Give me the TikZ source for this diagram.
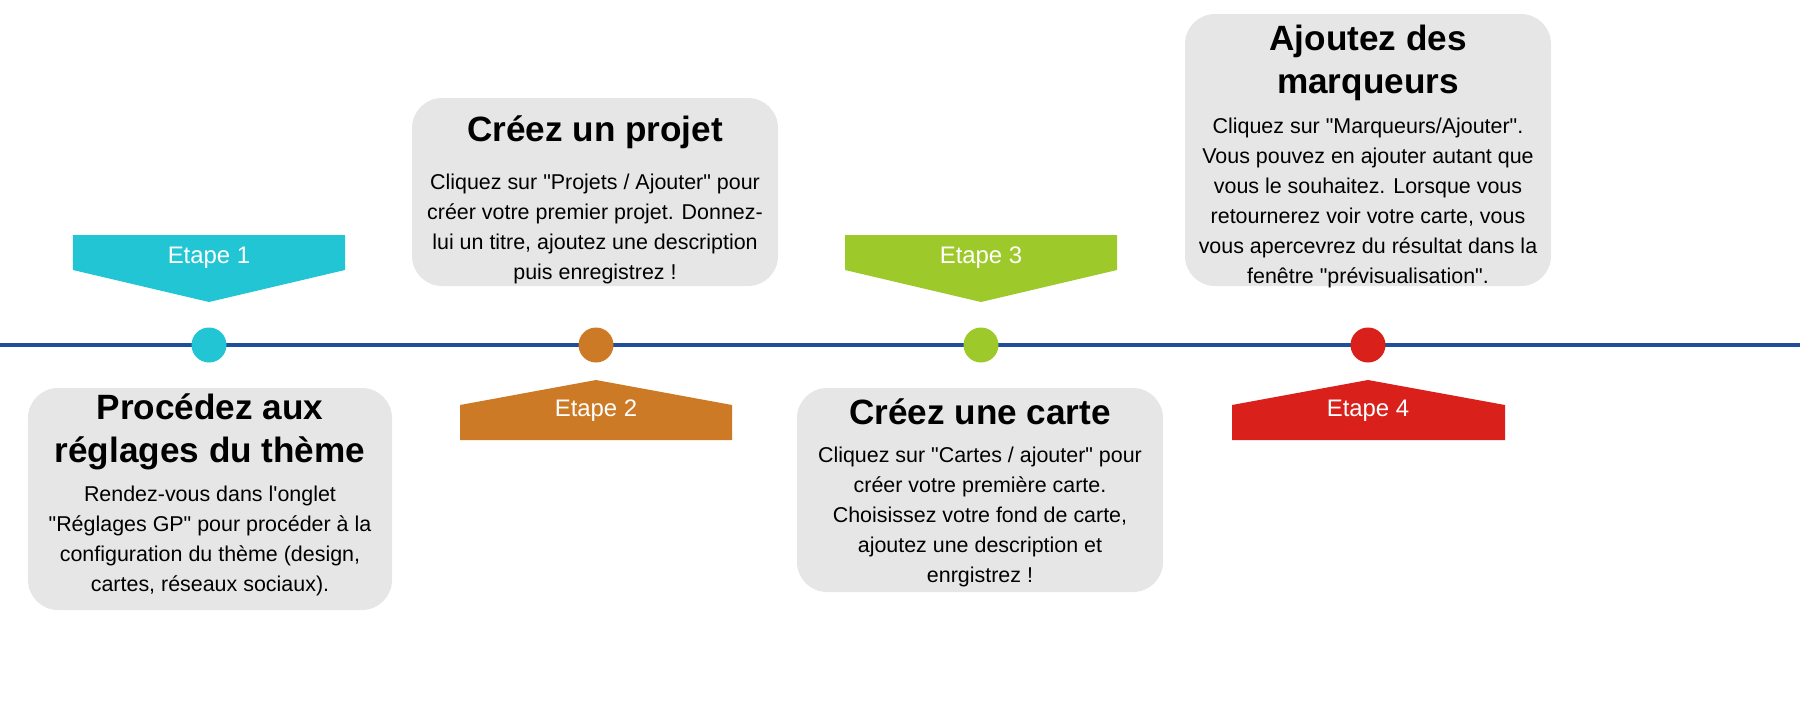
\documentclass[tikz,border=0pt]{standalone}
\usepackage{fontspec}
\setmainfont{Liberation Sans}
\usetikzlibrary{positioning}
\definecolor{lineblue}{HTML}{1F4E9C}
\definecolor{stepcyan}{HTML}{22C5D4}
\definecolor{steporange}{HTML}{CD7A27}
\definecolor{stepgreen}{HTML}{9EC92A}
\definecolor{stepred}{HTML}{D9201A}
\definecolor{boxgray}{HTML}{E6E6E6}
\newcommand{\qq}{\textquotedbl}
\newcommand{\ap}{\textquotesingle}
\begin{document}
\begin{tikzpicture}[
    title/.style={font=\fontsize{10pt}{12.2pt}\selectfont\bfseries, align=center, inner sep=0pt},
    body/.style={font=\fontsize{6.1pt}{8.5pt}\selectfont, align=center, inner sep=0pt},
    dot/.style={circle, minimum size=0.35cm, inner sep=0pt},
    steplabel/.style={text=white, font=\fontsize{6.8pt}{7pt}\selectfont}
]
\useasboundingbox (0,0) rectangle (18,7.06);

% Timeline
\coordinate (tl) at (0,3.61);
\coordinate (tr) at (18,3.61);
\draw[lineblue, line width=1.2pt] (tl) -- (tr);

% Dots
\node[dot, fill=stepcyan] (d1) at (2.09,3.61) {};
\node[dot, fill=steporange] (d2) at (5.96,3.61) {};
\node[dot, fill=stepgreen] (d3) at (9.81,3.61) {};
\node[dot, fill=stepred] (d4) at (13.68,3.61) {};

% Step banners
\fill[stepcyan] (0.73,4.71) -- (3.45,4.71) -- (3.45,4.36) -- (2.09,4.04) -- (0.73,4.36) -- cycle;
\node[steplabel] (e1) at (2.09,4.48) {Etape 1};
\fill[steporange] (4.60,2.66) -- (7.32,2.66) -- (7.32,3.01) -- (5.96,3.26) -- (4.60,3.01) -- cycle;
\node[steplabel] (e2) at (5.96,2.95) {Etape 2};
\fill[stepgreen] (8.45,4.71) -- (11.17,4.71) -- (11.17,4.36) -- (9.81,4.04) -- (8.45,4.36) -- cycle;
\node[steplabel] (e3) at (9.81,4.48) {Etape 3};
\fill[stepred] (12.32,2.66) -- (15.05,2.66) -- (15.05,3.01) -- (13.68,3.26) -- (12.32,3.01) -- cycle;
\node[steplabel] (e4) at (13.68,2.95) {Etape 4};

% Cards
\fill[boxgray, rounded corners=0.3cm] (0.28,0.96) rectangle (3.92,3.18);
\node[title] (t1) at (2.10,2.74) {Procédez aux\\réglages du thème};
\node[body] (b1) at (2.10,1.65) {Rendez-vous dans l\ap onglet\\\qq Réglages GP\qq{} pour procéder à la\\configuration du thème (design,\\cartes, réseaux sociaux).};

\fill[boxgray, rounded corners=0.3cm] (4.12,4.20) rectangle (7.78,6.08);
\node[title] (t2) at (5.95,5.74) {Créez un projet};
\node[body] (b2) at (5.95,4.77) {Cliquez sur \qq Projets / Ajouter\qq{} pour\\créer votre premier projet. Donnez-\\lui un titre, ajoutez une description\\puis enregistrez !};

\fill[boxgray, rounded corners=0.3cm] (7.97,1.14) rectangle (11.63,3.18);
\node[title] (t3) at (9.80,2.94) {Créez une carte};
\node[body] (b3) at (9.80,1.89) {Cliquez sur \qq Cartes / ajouter\qq{} pour\\créer votre première carte.\\Choisissez votre fond de carte,\\ajoutez une description et\\enrgistrez !};

\fill[boxgray, rounded corners=0.3cm] (11.85,4.20) rectangle (15.51,6.92);
\node[title] (t4) at (13.68,6.43) {Ajoutez des\\marqueurs};
\node[body] (b4) at (13.68,5.03) {Cliquez sur \qq Marqueurs/Ajouter\qq.\\Vous pouvez en ajouter autant que\\vous le souhaitez. Lorsque vous\\retournerez voir votre carte, vous\\vous apercevrez du résultat dans la\\fenêtre \qq prévisualisation\qq.};
\end{tikzpicture}
\end{document}
